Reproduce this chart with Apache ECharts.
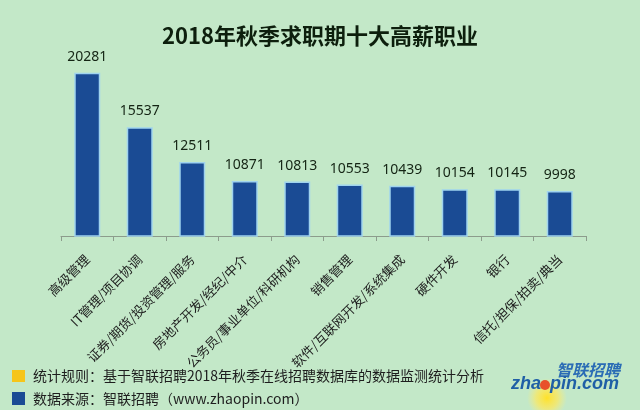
<!DOCTYPE html>
<html><head><meta charset="utf-8">
<script src="https://cdn.jsdelivr.net/npm/echarts@6/dist/echarts.min.js"></script>
<style>html,body{margin:0;padding:0;background:#c3e8c8;}#c{width:640px;height:410px;}</style>
</head><body><div id="c"></div>
<script>
const titleText = '2018年秋季求职期十大高薪职业';
const categories = ['高级管理','IT管理/项目协调','证券/期货/投资管理/服务','房地产开发/经纪/中介','公务员/事业单位/科研机构','销售管理','软件/互联网开发/系统集成','硬件开发','银行','信托/担保/拍卖/典当'];
const salaries = [20281,15537,12511,10871,10813,10553,10439,10154,10145,9998];
const noteRule = '统计规则：基于智联招聘2018年秋季在线招聘数据库的数据监测统计分析';
const noteSource = '数据来源：智联招聘（www.zhaopin.com）';

const CJK = '"Noto Sans CJK SC","Noto Sans",sans-serif';
const chart = echarts.init(document.getElementById('c'), null, {renderer:'canvas'});
chart.setOption({
  backgroundColor:'#c3e8c8',
  animation:false,
  title:{text:titleText,left:'center',top:20,textStyle:{fontFamily:CJK,fontSize:22,fontWeight:'bold',color:'#0d1f0d'}},
  grid:{left:61,right:54,top:29,bottom:174,containLabel:false},
  xAxis:{type:'category',data:categories,
    axisLine:{lineStyle:{color:'#8c9c8c',width:1}},
    axisTick:{show:true,length:5,lineStyle:{color:'#8c9c8c'}},
    axisLabel:{rotate:45,interval:0,margin:21,fontFamily:CJK,fontSize:13,color:'#1e1e1e'}},
  yAxis:{type:'value',show:false,min:6080,max:24080,splitLine:{show:false}},
  series:[{type:'bar',data:salaries,barWidth:26,
    itemStyle:{color:'#1a4b94',borderColor:'#9fd3ee',borderWidth:1.5},
    label:{show:true,position:'top',distance:9,fontFamily:'"Noto Sans",sans-serif',fontSize:14,color:'#142414'}}],
  graphic:[
    {type:'rect',shape:{x:12,y:370,width:13,height:12},style:{fill:'#f6c51a'}},
    {type:'rect',shape:{x:12,y:392,width:13,height:13},style:{fill:'#1a4b94'}},
    {type:'text',x:33,y:376,style:{text:noteRule,font:'14px '+CJK,fill:'#1e1e1e',textVerticalAlign:'middle',verticalAlign:'middle'}},
    {type:'text',x:33,y:399,style:{text:noteSource,font:'14px '+CJK,fill:'#1e1e1e',textVerticalAlign:'middle',verticalAlign:'middle'}},
    {type:'circle',shape:{cx:547,cy:398,r:20},style:{fill:{type:'radial',x:0.5,y:0.5,r:0.5,colorStops:[{offset:0,color:'rgba(255,225,40,1)'},{offset:0.55,color:'rgba(255,232,90,0.7)'},{offset:1,color:'rgba(255,240,120,0)'}]}}},
    {type:'text',x:620,y:370,style:{text:'智联招聘',font:'italic bold 16px '+CJK,fill:'#2a6cb5',align:'right',textAlign:'right',verticalAlign:'middle',textVerticalAlign:'middle'}},
    {type:'text',x:541,y:384,style:{text:'zha',font:'italic bold 18px "Liberation Sans",Arial,sans-serif',fill:'#1f5fa6',align:'right',textAlign:'right',verticalAlign:'middle',textVerticalAlign:'middle'}},
    {type:'circle',shape:{cx:545,cy:385,r:5},style:{fill:'#e8502a'}},
    {type:'text',x:550,y:384,style:{text:'pin.com',font:'italic bold 18px "Liberation Sans",Arial,sans-serif',fill:'#1f5fa6',verticalAlign:'middle',textVerticalAlign:'middle'}}
  ]
});
</script></body></html>
